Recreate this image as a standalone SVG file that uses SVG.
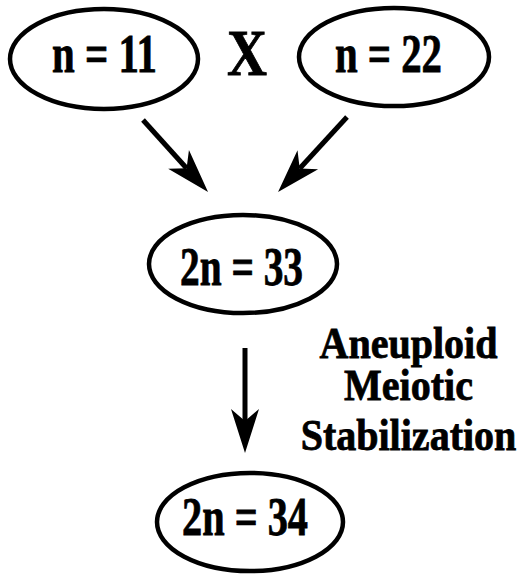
<svg xmlns="http://www.w3.org/2000/svg" width="523" height="577" viewBox="0 0 523 577">
<style>
.node ellipse{fill:none;stroke:#000;stroke-width:4.5}
text{font-family:"Liberation Serif","Times New Roman",serif;font-weight:bold;fill:#000;stroke:#000;stroke-width:0.8}
.lbl{font-size:54px}
.side{font-size:45px;text-anchor:middle}
.conn line{stroke:#000;stroke-width:5;fill:none;marker-end:url(#ah)}
</style>
<defs>
<marker id="ah" markerUnits="userSpaceOnUse" viewBox="-46 -16 48 32" markerWidth="48" markerHeight="32" refX="-32" refY="0" orient="auto">
<path d="M0,0 L-44,-14 L-32,0 L-44,14 Z" fill="#000"/>
</marker>
</defs>
<g id="n11" class="node">
<ellipse cx="104" cy="59" rx="94" ry="50"/>
<text class="lbl" x="52" y="72" textLength="105" lengthAdjust="spacingAndGlyphs">n = 11</text>
</g>
<g id="cross">
<text x="227" y="75" font-size="66" textLength="40" lengthAdjust="spacingAndGlyphs">X</text>
</g>
<g id="n22" class="node">
<ellipse cx="394" cy="57" rx="95" ry="49"/>
<text class="lbl" x="335" y="72" textLength="107" lengthAdjust="spacingAndGlyphs">n = 22</text>
</g>
<g id="n33" class="node">
<ellipse cx="243" cy="264" rx="94" ry="49"/>
<text class="lbl" x="180" y="285" textLength="123" lengthAdjust="spacingAndGlyphs">2n = 33</text>
</g>
<g id="n34" class="node">
<ellipse cx="250" cy="522" rx="93" ry="49"/>
<text class="lbl" x="182" y="535" textLength="126" lengthAdjust="spacingAndGlyphs">2n = 34</text>
</g>
<g id="label" transform="translate(408.5 0) scale(0.89 1)">
<text class="side" x="0" y="358">Aneuploid</text>
<text class="side" x="0" y="400">Meiotic</text>
<text class="side" x="0" y="450">Stabilization</text>
</g>
<g id="connectors" class="conn">
<line x1="143" y1="120" x2="186.6" y2="168.3"/>
<line x1="347" y1="117" x2="299.7" y2="168.5"/>
<line x1="245" y1="348" x2="245" y2="421"/>
</g>
</svg>
